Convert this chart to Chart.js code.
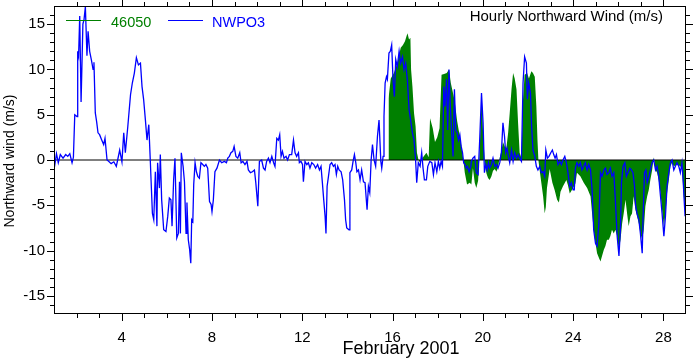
<!DOCTYPE html>
<html>
<head>
<meta charset="utf-8">
<script src="https://cdn.jsdelivr.net/npm/chart.js@4.4.1/dist/chart.umd.min.js"></script>
<style>
  html, body { margin: 0; padding: 0; background: #fff; }
  #wrap { width: 694px; height: 359px; }
</style>
</head>
<body>
<div id="wrap"><canvas id="myChart" width="694" height="359"></canvas></div>
<script>
"use strict";

// day of month (February 2001) and northward wind (m/s)
var nwpo3Days = [
  1.00, 1.11, 1.19, 1.28, 1.40, 1.52, 1.61, 1.70, 1.80, 1.86, 1.92, 2.02, 2.05, 2.09, 2.14, 2.20,
  2.28, 2.33, 2.39, 2.46, 2.51, 2.58, 2.66, 2.73, 2.77, 2.83, 2.89, 2.95, 3.02, 3.10, 3.20, 3.26,
  3.35, 3.42, 3.53, 3.65, 3.76, 3.82, 3.91, 4.01, 4.09, 4.16, 4.27, 4.39, 4.47, 4.56, 4.65, 4.74,
  4.83, 4.90, 4.97, 5.05, 5.12, 5.20, 5.27, 5.30, 5.36, 5.42, 5.49, 5.56,
  5.59, 5.67, 5.71, 5.77, 5.86, 5.96, 6.04, 6.11, 6.18, 6.23, 6.30, 6.36, 6.44, 6.51, 6.56, 6.60,
  6.64, 6.72, 6.78, 6.85, 6.89, 6.95, 7.01, 7.06, 7.10, 7.15, 7.19, 7.25, 7.31, 7.37, 7.44, 7.51,
  7.59, 7.66, 7.73, 7.81, 7.89, 7.96, 8.00, 8.06, 8.13, 8.22, 8.33, 8.43, 8.55, 8.64, 8.70, 8.77,
  8.84, 8.92, 8.98, 9.06, 9.14, 9.23, 9.29, 9.37, 9.46, 9.55, 9.61, 9.70, 9.79, 9.88, 9.94, 10.03,
  10.10, 10.20,
  10.28, 10.35, 10.42, 10.50, 10.57, 10.65, 10.73, 10.79, 10.87, 10.94, 11.00, 11.06, 11.12, 11.19,
  11.28, 11.35, 11.43, 11.53, 11.61, 11.68, 11.75, 11.83, 11.87, 11.94, 12.01, 12.05, 12.12, 12.20,
  12.27, 12.34, 12.42, 12.51, 12.59, 12.68, 12.76, 12.83, 12.89, 12.95, 13.01, 13.05, 13.10, 13.16,
  13.23, 13.30, 13.38, 13.45, 13.51, 13.57, 13.63, 13.72, 13.79, 13.87, 13.92, 13.97, 14.07, 14.11,
  14.19, 14.25, 14.31, 14.37, 14.42, 14.49, 14.56, 14.63, 14.71, 14.78, 14.87,
  14.93, 14.99, 15.05, 15.11, 15.18, 15.25, 15.33, 15.40, 15.48, 15.52, 15.58, 15.62, 15.67, 15.73,
  15.77, 15.84, 15.90, 15.96, 16.02, 16.08, 16.14, 16.21, 16.29, 16.36, 16.44, 16.51, 16.58, 16.66,
  16.73, 16.80, 16.88, 16.95, 17.02, 17.07, 17.14, 17.22, 17.29, 17.35, 17.41, 17.50, 17.56, 17.65,
  17.74, 17.81, 17.88, 17.96, 18.03, 18.09, 18.15, 18.21, 18.27, 18.32, 18.39, 18.44, 18.50, 18.56,
  18.62, 18.68, 18.74, 18.80, 18.86, 18.92, 18.98, 19.04, 19.10, 19.15, 19.21, 19.27, 19.32, 19.39,
  19.47,
  19.49, 19.56, 19.64, 19.71, 19.79, 19.86, 19.94, 20.01, 20.07, 20.13, 20.19, 20.25, 20.30, 20.38,
  20.45, 20.53, 20.60, 20.67, 20.75, 20.82, 20.89, 20.96, 21.01, 21.07, 21.13, 21.19, 21.27, 21.34,
  21.41, 21.49, 21.56, 21.63, 21.71, 21.78, 21.85, 21.93, 21.97, 22.03, 22.11, 22.16, 22.22, 22.30,
  22.37, 22.44, 22.52, 22.59, 22.67, 22.74, 22.79, 22.86, 22.93, 23.01, 23.08, 23.14, 23.20, 23.26,
  23.33, 23.41, 23.48, 23.55, 23.63, 23.70, 23.77, 23.85, 23.92, 24.00, 24.05,
  24.10, 24.17, 24.25, 24.32, 24.39, 24.47, 24.54, 24.62, 24.69, 24.77, 24.84, 24.91, 24.99, 25.06,
  25.14, 25.21, 25.28, 25.36, 25.43, 25.50, 25.58, 25.65, 25.72, 25.80, 25.87, 25.95, 25.99, 26.03,
  26.10, 26.14, 26.21, 26.29, 26.36, 26.43, 26.51, 26.58, 26.65, 26.72, 26.77, 26.83, 26.91, 26.98,
  27.06, 27.10, 27.16, 27.22, 27.28, 27.36, 27.42, 27.50, 27.57, 27.65, 27.72, 27.79, 27.87, 27.94,
  28.02, 28.09, 28.16, 28.24, 28.31, 28.38, 28.46, 28.53, 28.60, 28.68, 28.75, 28.82, 28.88, 28.92,
  28.96
];
var nwpo3Wind = [
  -1.1, 0.7, -0.3, 0.6, 0.2, 0.6, 0.4, 0.7, -0.3, 0.3, 5.0, 4.8, 12.0, 11.5, 15.9, 6.4,
  15.0, 15.5, 16.9, 11.5, 14.2, 12.0, 11.0, 10.0, 10.8, 5.2, 4.2, 3.0, 2.8, 2.3, 1.7, 2.4,
  0.0, -0.15, -0.4, -0.2, -0.7, 0.0, 1.1, -0.2, 3.0, 0.8, 3.7, 7.2, 8.5, 9.6, 11.3, 10.5,
  10.7, 8.1, 6.7, 4.4, 2.2, 3.9, -0.3, -2.2, -5.9, -6.6, -1.3, -7.3,
  -0.3, -3.1, 0.6, -4.4, -7.7, -7.9, -6.2, -4.2, -4.4, -7.3, -2.2, 0.2, -8.6, -8.1, -2.4, -8.1,
  0.8, -0.7, -2.4, -8.1, -4.7, -8.8, -9.9, -11.4, -6.6, -6.8, -2.7, -0.3, -1.3, -1.8, -2.0, -0.3,
  -0.5, -0.7, -0.5, -0.9, -4.6, -4.9, -5.7, -4.4, -1.3, -0.9, 0.0, -0.3, -0.15, -0.3, 0.2, 0.4,
  0.8, 0.95, 1.5, 0.4, 0.2, 0.8, -0.3, -0.15, -0.5, -0.15, -1.1, -1.4, -1.3, -1.1, -2.5, -5.1,
  -0.15, 0.0,
  -0.9, -1.1, -0.15, 0.2, -0.3, 0.4, -0.3, -0.7, 2.4, 2.2, 2.8, 0.4, 0.95, 0.2,
  0.4, 0.0, 0.6, 0.6, 2.2, 0.8, 0.4, 0.8, -0.3, -0.15, -0.5, -2.4, -0.15, -0.5,
  -0.3, -0.9, -0.3, -0.5, -0.9, -0.5, -1.1, -0.7, -2.5, -4.4, -6.2, -8.1, -2.9, -1.8,
  -0.5, -0.3, -0.7, -0.5, -1.6, -0.7, -1.1, -1.3, -2.2, -4.4, -6.6, -7.5, -7.7, -1.4,
  -1.1, -0.15, 0.6, -0.3, -1.3, -1.1, -2.2, -1.1, -2.4, -2.5, -5.5,
  -2.9, -3.6, 0.0, 1.7, 0.0, -0.7, 2.6, 4.4, -0.15, -0.9, 0.4, 4.8, 8.5, 9.2,
  8.9, 11.8, 12.0, 12.7, 8.9, 7.0, 11.1, 10.3, 12.0, 10.7, 11.4, 10.0, 10.7, 8.7,
  5.6, 4.4, 3.0, 2.2, 0.0, -2.5, -0.3, -0.7, 0.8, -0.9, -2.2, -2.2, -0.7, -0.15,
  -0.3, -1.6, -0.3, -1.3, -0.15, -0.9, -0.15, -0.7, 8.1, 5.9, 8.9, 3.3, 10.0, 5.9,
  3.0, 0.4, 7.8, 3.3, 3.0, 2.2, 2.8, 1.5, 0.8, -0.3, -0.5, -0.9, -0.7, -1.3,
  -0.7,
  -0.15, 0.2, 0.4, -1.4, -1.6, 2.2, 7.4, 4.1, -1.4, -0.5, -1.1, -0.3, -0.9, -0.5,
  0.2, -0.7, -0.5, -0.9, -0.3, 0.8, 4.1, 2.6, 0.8, 1.3, 0.4, -0.3, 1.1, -0.15,
  0.8, 0.2, 0.6, 0.2, -0.15, 8.5, 11.4, 10.7, 6.7, 8.5, 7.4, 3.7, 1.1, 0.4,
  -0.7, -1.1, -0.7, -1.4, -1.3, -1.8, 1.1, 0.2, 0.4, 0.8, 1.1, 0.6, 0.2, 0.6,
  -0.5, -0.15, -0.5, 0.0, 0.4, -0.3, -1.4, -2.9, -2.5, -3.3, -3.3,
  -0.9, -0.3, -0.7, -0.3, -1.1, -0.7, -0.3, -1.1, -0.5, -1.1, -3.3, -7.7, -9.2, -9.5,
  -7.0, -1.4, -1.8, -1.1, -0.9, -1.6, -1.4, -0.9, -1.8, -1.4, -4.4, -8.4, -9.5, -10.6,
  -7.3, -2.5, -0.7, -0.3, -1.8, -1.4, -0.9, -1.1, -1.4, -2.9, -5.1, -5.9, -6.6, -8.1,
  -10.3, -6.2, -1.4, -1.1, -2.5, -1.8, -1.1, -0.3, 0.0, -1.1, -0.7, -1.8, -4.0, -5.9,
  -8.4, -6.2, -2.9, -1.4, -0.3, 0.0, -1.1, -0.7, -0.3, -0.7, -1.4, -0.3, -2.5, -4.5,
  -6.2
];

var buoyDays = [
  15.82, 15.92, 16.06, 16.21, 16.36, 16.46, 16.55, 16.61, 16.66, 16.73, 16.79, 16.82, 16.88, 16.95,
  17.02, 17.08, 17.15, 17.22, 17.35, 17.50, 17.60, 17.66, 17.78, 17.88, 17.98, 18.08, 18.17, 18.28,
  18.40, 18.50, 18.58, 18.66, 18.75, 18.86, 18.95, 19.05, 19.12, 19.20, 19.30, 19.42, 19.49, 19.56,
  19.64, 19.71, 19.79, 19.86, 19.94, 20.01, 20.09, 20.16, 20.23, 20.30, 20.38, 20.45, 20.53, 20.60,
  20.67, 20.75, 20.82, 20.89, 20.97, 21.04, 21.12, 21.19, 21.27, 21.34, 21.41, 21.49, 21.56, 21.63,
  21.71, 21.78, 21.85, 21.96, 22.04, 22.15, 22.22, 22.30, 22.37, 22.42, 22.46, 22.52, 22.59, 22.67,
  22.74, 22.79, 22.84, 22.96, 23.08, 23.18, 23.29, 23.37, 23.44, 23.55, 23.70, 23.77, 23.85, 24.00,
  24.10, 24.17, 24.32, 24.47, 24.62, 24.77, 24.84, 24.91, 24.99, 25.06, 25.14, 25.21, 25.28, 25.36,
  25.43, 25.50, 25.58, 25.65, 25.72, 25.80, 25.87, 25.95, 26.02, 26.10, 26.17, 26.24, 26.32, 26.39,
  26.46, 26.54, 26.61, 26.68, 26.76, 26.83, 26.91, 26.98, 27.06, 27.13, 27.20, 27.28, 27.35, 27.42,
  27.50, 27.57, 27.65, 27.72, 27.79, 27.87, 27.94, 28.02, 28.09, 28.16, 28.24, 28.31, 28.38, 28.46,
  28.60, 28.75, 28.82, 28.90, 28.97
];
var buoyWind = [
  6.8, 9.0, 9.6, 10.7, 12.4, 12.7, 13.1, 13.6, 14.0, 13.3, 13.5, 10.0, 8.1, 5.2,
  3.7, 0.8, 0.0, -0.3, 0.3, 0.8, 0.3, 4.6, 3.5, 2.0, 2.5, 3.5, 9.4, 9.5,
  9.6, 10.0, 8.5, 7.6, 6.5, 4.3, 3.0, 1.5, 0.3, -1.4, -2.7, -2.5, -2.7, -0.9,
  -2.5, -3.1, -2.3, 1.0, 7.4, 3.0, -0.5, -1.5, -2.0, -2.2, -1.8, -1.2, -1.0, -1.3,
  -0.8, 0.3, 1.0, 2.0, 1.5, 1.3, 3.0, 5.2, 7.8, 9.6, 9.0, 7.8, 4.1, 0.8,
  0.2, 6.7, 9.4, 9.6, 9.0, 9.8, 9.6, 9.2, 5.9, 2.2, 0.0, -1.2, -2.5, -4.0,
  -5.9, -5.2, -3.1, -1.0, -2.5, -3.3, -4.4, -4.7, -3.5, -2.9, -2.2, -2.8, -3.7, -3.1,
  -2.6, -1.4, -1.8, -2.5, -3.1, -4.0, -5.9, -7.7, -9.2, -10.3, -10.8, -11.2, -10.6, -9.9,
  -9.5, -8.8, -8.8, -8.4, -7.7, -8.1, -7.7, -8.4, -9.9, -8.8, -7.0, -5.9, -4.4, -5.9,
  -7.3, -6.2, -5.9, -4.0, -5.5, -6.2, -7.0, -8.1, -8.8, -7.7, -5.1, -4.0, -3.3, -2.2,
  -1.1, 0.3, -1.1, -1.4, -2.2, -3.7, -5.5, -7.3, -5.9, -3.7, -2.2, -0.7, -0.3, -0.7,
  -0.5, -0.7, -1.1, -4.0, -5.5
];

var zeroDays = [1, 29];
var zeroWind = [0, 0];

var xTicks = [4, 8, 12, 16, 20, 24, 28];
var yTicks = [-15, -10, -5, 0, 5, 10, 15];

function pairs(xs, ys) {
    return xs.map(function (x, i) { return { x: x, y: ys[i] }; });
}

// frame, minor/major tick marks, legend and titles
var decorations = {
    id: 'decorations',
    afterDraw: function (chart) {
        var ctx = chart.ctx;
        var a = chart.chartArea;
        var xs = chart.scales.x;
        var ys = chart.scales.y;
        var d, v, px, py, len;

        ctx.save();
        ctx.strokeStyle = '#000';
        ctx.lineWidth = 1;
        ctx.strokeRect(a.left + 0.5, a.top + 0.5, a.right - a.left - 1, a.bottom - a.top - 1);

        ctx.beginPath();
        for (d = 2; d <= 28; d++) {
            px = Math.round(xs.getPixelForValue(d)) + 0.5;
            len = xTicks.indexOf(d) >= 0 ? 7 : 4;
            ctx.moveTo(px, a.bottom);
            ctx.lineTo(px, a.bottom + len);
            ctx.moveTo(px, a.top);
            ctx.lineTo(px, a.top - len);
        }
        for (v = -16; v <= 16; v++) {
            py = Math.round(ys.getPixelForValue(v)) + 0.5;
            len = yTicks.indexOf(v) >= 0 ? 7 : 4;
            ctx.moveTo(a.left, py);
            ctx.lineTo(a.left - len, py);
            ctx.moveTo(a.right, py);
            ctx.lineTo(a.right + len, py);
        }
        ctx.stroke();

        // legend
        ctx.lineWidth = 1;
        ctx.strokeStyle = '#008000';
        ctx.beginPath();
        ctx.moveTo(66, 20.5);
        ctx.lineTo(101, 20.5);
        ctx.stroke();
        ctx.strokeStyle = '#0000ff';
        ctx.beginPath();
        ctx.moveTo(168, 20.5);
        ctx.lineTo(203, 20.5);
        ctx.stroke();

        ctx.textBaseline = 'alphabetic';
        ctx.textAlign = 'left';
        ctx.font = '14.5px "Liberation Sans", Arial, sans-serif';
        ctx.fillStyle = '#008000';
        ctx.fillText('46050', 111, 27);
        ctx.fillStyle = '#0000ff';
        ctx.fillText('NWPO3', 212, 27);

        ctx.fillStyle = '#000';
        ctx.textAlign = 'right';
        ctx.font = '15px "Liberation Sans", Arial, sans-serif';
        ctx.fillText('Hourly Northward Wind (m/s)', 663, 21);

        ctx.textAlign = 'center';
        ctx.font = '18px "Liberation Sans", Arial, sans-serif';
        ctx.fillText('February 2001', 401, 354);

        ctx.translate(10, 161);
        ctx.rotate(-Math.PI / 2);
        ctx.textBaseline = 'middle';
        ctx.font = '14px "Liberation Sans", Arial, sans-serif';
        ctx.fillText('Northward wind (m/s)', 0, 0);
        ctx.restore();
    }
};

var tickFont = { family: '"Liberation Sans", Arial, sans-serif', size: 15 };

new Chart(document.getElementById('myChart'), {
    type: 'line',
    data: {
        datasets: [{
            label: 'NWPO3',
            data: pairs(nwpo3Days, nwpo3Wind),
            borderColor: '#0000ff',
            borderWidth: 1.3,
            pointRadius: 0,
            fill: false,
            tension: 0,
            order: 1
        }, {
            label: 'zero',
            data: pairs(zeroDays, zeroWind),
            borderColor: '#000000',
            borderWidth: 1,
            pointRadius: 0,
            fill: false,
            order: 2
        }, {
            label: '46050',
            data: pairs(buoyDays, buoyWind),
            borderColor: '#008000',
            borderWidth: 0,
            backgroundColor: '#008000',
            pointRadius: 0,
            fill: 'origin',
            tension: 0,
            order: 3
        }]
    },
    options: {
        responsive: false,
        animation: false,
        devicePixelRatio: 1,
        layout: { padding: { top: 6, right: 8, left: 0, bottom: 0 } },
        plugins: {
            legend: { display: false },
            tooltip: { enabled: false }
        },
        scales: {
            x: {
                type: 'linear',
                min: 1,
                max: 29,
                afterBuildTicks: function (scale) {
                    scale.ticks = xTicks.map(function (v) { return { value: v }; });
                },
                afterFit: function (scale) {
                    scale.height = 45;
                    scale.paddingLeft = 0;
                    scale.paddingRight = 0;
                },
                ticks: { font: tickFont, color: '#000', padding: 15, maxRotation: 0, autoSkip: false },
                grid: { display: false, drawTicks: false },
                border: { display: false }
            },
            y: {
                type: 'linear',
                min: -17,
                max: 17,
                afterBuildTicks: function (scale) {
                    scale.ticks = yTicks.map(function (v) { return { value: v }; });
                },
                afterFit: function (scale) {
                    scale.width = 54;
                    scale.paddingTop = 0;
                    scale.paddingBottom = 0;
                },
                ticks: { font: tickFont, color: '#000', padding: 9 },
                grid: { display: false, drawTicks: false },
                border: { display: false }
            }
        }
    },
    plugins: [decorations]
});
</script>
</body>
</html>
